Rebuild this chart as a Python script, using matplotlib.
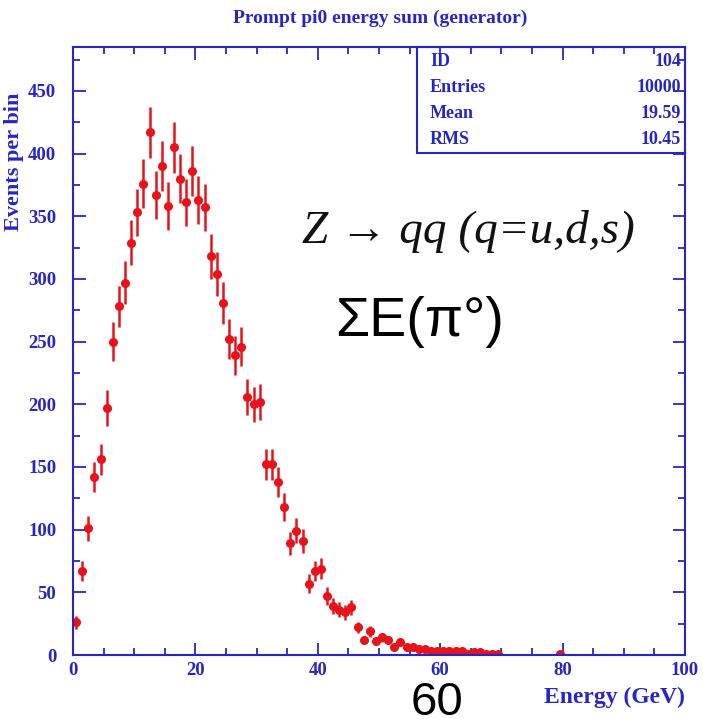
import numpy as np
import matplotlib
matplotlib.use("Agg")
import matplotlib.pyplot as plt
from matplotlib.ticker import MultipleLocator
from matplotlib.patches import Rectangle

# histogram contents, 1 GeV bins from 0 to 100
bin_edges = np.arange(0, 101, 1)
counts = [26, 67, 101, 142, 156, 197, 250, 278, 297, 329,
          353, 376, 417, 367, 390, 358, 405, 380, 361, 386,
          363, 357, 318, 304, 281, 252, 239, 246, 206, 200,
          202, 152, 152, 138, 118, 89, 99, 91, 57, 67,
          69, 47, 39, 36, 34, 38, 22, 12, 19, 11,
          14, 12, 6, 10, 6, 6, 5, 5, 3, 3,
          3, 3, 3, 3, 1, 2, 2, 1, 1, 1,
          0, 0, 0, 0, 0, 0, 0, 0, 0, 1] + [0] * 20

stat_names = ["ID", "Entries", "Mean", "RMS"]
stat_values = ["104", "10000", "19.59", "10.45"]

title = "Prompt pi0 energy sum (generator)"
xlabel = "Energy (GeV)"
ylabel = "Events per bin"

BLUE = "#2626c8"
RED = "#e8121a"
SERIF = ["Liberation Serif", "DejaVu Serif"]
SANS = ["Liberation Sans", "DejaVu Sans"]

fig = plt.figure(figsize=(7.03, 7.19), dpi=100)
ax = fig.add_axes([73 / 703, 1 - 655 / 719, 612 / 703, 608 / 719])

counts = np.array(counts, dtype=float)
centers = 0.5 * (bin_edges[:-1] + bin_edges[1:])
mask = counts > 0
ax.errorbar(centers[mask], counts[mask], yerr=np.sqrt(counts[mask]), xerr=0.5,
            fmt="o", color=RED, ms=5.5, elinewidth=1.8, capsize=0, mec=RED)

ax.set_xlim(0, 100)
ax.set_ylim(0, 485)
ax.xaxis.set_major_locator(MultipleLocator(20))
ax.xaxis.set_minor_locator(MultipleLocator(5))
ax.yaxis.set_major_locator(MultipleLocator(50))
ax.yaxis.set_minor_locator(MultipleLocator(25))
ax.tick_params(which="both", direction="in", top=True, right=True, color=BLUE, width=1.3)
ax.tick_params(which="major", length=9)
ax.tick_params(axis="y", which="major", pad=12)
ax.tick_params(axis="x", which="major", pad=5)
ax.tick_params(which="minor", length=5)
for s in ax.spines.values():
    s.set_color(BLUE)
    s.set_linewidth(1.5)
for lab in ax.get_xticklabels() + ax.get_yticklabels():
    lab.set_family(SERIF)
    lab.set_fontweight("bold")
    lab.set_fontsize(13.5)
    lab.set_color(BLUE)

# stats box
x0 = (417 - 73) / 612
y0 = (655 - 153) / 608
ax.add_patch(Rectangle((x0, y0), 1 - x0, 1 - y0, transform=ax.transAxes,
                       fill=False, ec=BLUE, lw=1.5, clip_on=False))
for i, (n, v) in enumerate(zip(stat_names, stat_values)):
    yy = (655 - (62 + 26 * i)) / 608
    ax.text((430 - 73) / 612, yy, n, transform=ax.transAxes, family=SERIF,
            fontweight="bold", fontsize=13, color=BLUE, va="center", ha="left")
    ax.text((681 - 73) / 612, yy, v, transform=ax.transAxes, family=SERIF,
            fontweight="bold", fontsize=13, color=BLUE, va="center", ha="right")

fig.text(380 / 703, 1 - 18 / 719, title, family=SERIF, fontweight="bold",
         fontsize=14, color=BLUE, ha="center", va="center")
fig.text(685 / 703, 1 - 697 / 719, xlabel, family=SERIF, fontweight="bold",
         fontsize=17, color=BLUE, ha="right", va="center")
fig.text(14 / 703, 1 - 93 / 719, ylabel, family=SERIF, fontweight="bold",
         fontsize=16, color=BLUE, ha="center", va="top", rotation=90)

# slide annotations
fig.text(302 / 703, 1 - 232 / 719, "Z \u2192 qq (q=u,d,s)", family=SERIF,
         style="italic", fontsize=34, color="#111111", ha="left", va="center")
fig.text(335 / 703, 1 - 322 / 719, "\u03a3E(\u03c0\u00b0)", family=SANS,
         fontsize=40, color="black", ha="left", va="center")
fig.text(411 / 703, 1 - 715 / 719, "60", family=SANS,
         fontsize=34, color="black", ha="left", va="baseline")

fig.savefig("out.png", dpi=100, facecolor="white")
